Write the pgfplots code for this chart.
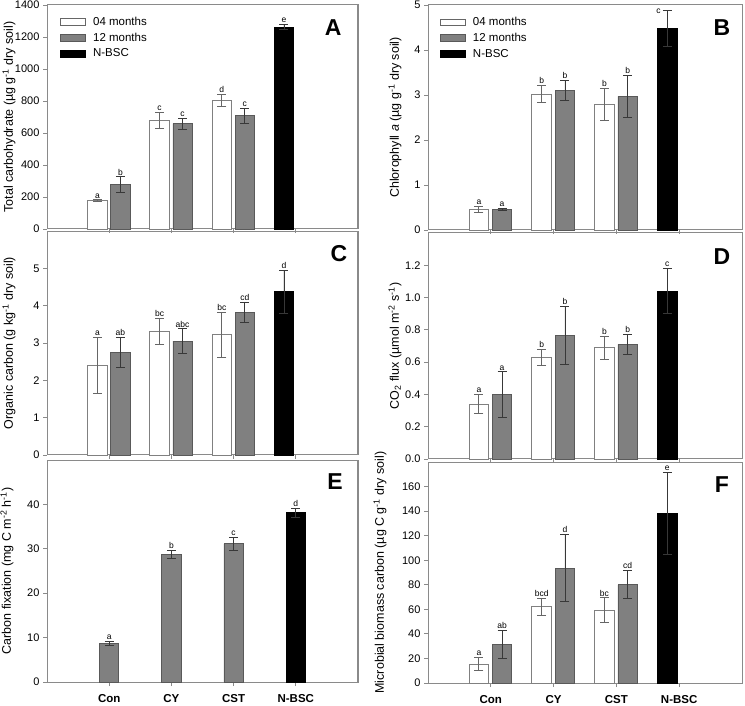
\documentclass[border=0pt]{standalone}
\usepackage{fontspec}
\setmainfont{Liberation Sans}
\usepackage{pgfplots}
\usepackage{pgfplotstable}
\pgfplotsset{compat=1.18}
\definecolor{barg}{HTML}{808080}
\definecolor{frame}{HTML}{8A8A8A}

\pgfplotsset{
  errs/.style={error bars/y dir=both, error bars/y explicit,
    error bars/error bar style={line width=0.8pt, draw=#1},
    error bars/error mark options={rotate=90, mark size=4.5pt, line width=0.8pt, draw=#1}},
  w04/.style={ybar, bar width=0.31, bar shift=0pt, fill=white, draw=black!50, line width=0.9pt,
    legend image code/.code={\draw[fill=white, draw=black!60, line width=0.8pt] (0pt,-3.3pt) rectangle (25pt,3.3pt); \path (30pt,0pt);},
    errs=black!60},
  g12/.style={ybar, bar width=0.31, bar shift=0pt, fill=barg, draw=black!65, line width=0.9pt,
    legend image code/.code={\draw[fill=barg, draw=black!65, line width=0.8pt] (0pt,-3.3pt) rectangle (25pt,3.3pt); \path (30pt,0pt);},
    errs=black!78},
  nb/.style={ybar, bar width=0.31, bar shift=0pt, fill=black, draw=black, line width=0.9pt,
    legend image code/.code={\draw[fill=black, draw=black, line width=0.8pt] (0pt,-3.3pt) rectangle (25pt,3.3pt); \path (30pt,0pt);},
    errs=black!78},
  labs/.style={draw=none, mark=none, forget plot, nodes near coords, point meta=explicit symbolic,
    nodes near coords style={font=\fontsize{8.5}{9}\selectfont, anchor=south, inner sep=1.5pt}},
  panel/.style={
    scale only axis, anchor=south west, xmin=0, xmax=5, ymin=0,
    xtick={1,2,3,4}, xticklabels={,,,},
    tick align=outside, xtick pos=bottom, ytick pos=left,
    major tick length=4pt,
    axis line style={draw=frame, line width=1pt},
    tick style={draw=frame, line width=0.8pt},
    ticklabel style={font=\fontsize{11}{12}\selectfont},
    /pgf/number format/assume math mode=true,
    /pgf/number format/1000 sep={},
    scaled y ticks=false,
    label style={font=\fontsize{12.5}{14}\selectfont},
    clip=false,
    legend style={draw=none, fill=none, anchor=north west, inner sep=0pt,
      font=\fontsize{11.5}{12}\selectfont, row sep=2pt},
    legend cell align=left,
  },
  left/.style={at={#1}, width=311pt},
  right/.style={at={#1}, width=314pt},
  yl/.style={ylabel style={at={(axis description cs:0,0.5)}, anchor=center, yshift=#1}},
}

\newcommand{\bars}[3]{%
  \addplot[w04] table[x=x,y=y,y error=e]{#1};
  \addplot[g12] table[x=x,y=y,y error=e]{#2};
  \addplot[nb] table[x=x,y=y,y error=e]{#3};
  \addplot[labs] table[x=x,y expr=\thisrow{y}+\thisrow{e},meta=lab]{#1};
  \addplot[labs] table[x=x,y expr=\thisrow{y}+\thisrow{e},meta=lab]{#2};
}
\newcommand{\letter}[3]{\node[font=\bfseries\fontsize{23}{23}\selectfont] at (rel axis cs:#1,#2) {#3};}

% ---------- data ----------
\pgfplotstableread{
x y e lab
0.81 178 4 a
1.81 678 52 c
2.81 803 38 d
}\Afour
\pgfplotstableread{
x y e lab
1.18 278 48 b
2.18 658 33 c
3.18 707 47 c
}\Atwelve
\pgfplotstableread{
x y e lab
3.81 1262 15 e
}\Anb

\pgfplotstableread{
x y e lab
0.81 0.46 0.07 a
1.81 3.02 0.19 b
2.81 2.79 0.36 b
}\Bfour
\pgfplotstableread{
x y e lab
1.18 0.46 0.015 a
2.18 3.11 0.22 b
3.18 2.97 0.47 b
}\Btwelve
\pgfplotstableread{
x y e lab
3.81 4.47 0.40 c
}\Bnb

\pgfplotstableread{
x y e lab
0.81 2.40 0.74 a
1.81 3.30 0.35 bc
2.81 3.22 0.61 bc
}\Cfour
\pgfplotstableread{
x y e lab
1.18 2.75 0.40 ab
2.18 3.05 0.33 abc
3.18 3.82 0.28 cd
}\Ctwelve
\pgfplotstableread{
x y e lab
3.81 4.37 0.58 d
}\Cnb

\pgfplotstableread{
x y e lab
0.81 0.34 0.06 a
1.81 0.63 0.05 b
2.81 0.69 0.07 b
}\Dfour
\pgfplotstableread{
x y e lab
1.18 0.40 0.14 a
2.18 0.765 0.18 b
3.18 0.71 0.06 b
}\Dtwelve
\pgfplotstableread{
x y e lab
3.81 1.04 0.14 c
}\Dnb

\pgfplotstableread{
x y e lab
1 8.75 0.45 a
2 28.8 0.9 b
3 31.1 1.5 c
}\Etwelve
\pgfplotstableread{
x y e lab
4 38.1 1.0 d
}\Enb

\pgfplotstableread{
x y e lab
0.81 15.5 5.3 a
1.81 62.0 7.3 bcd
2.81 59.2 10.2 bc
}\Ffour
\pgfplotstableread{
x y e lab
1.18 31.6 11.5 ab
2.18 93.5 27.3 d
3.18 80.0 11.5 cd
}\Ftwelve
\pgfplotstableread{
x y e lab
3.81 138.4 33.3 e
}\Fnb

\begin{document}
\begin{tikzpicture}
\useasboundingbox (0pt,0pt) rectangle (745pt,705pt);

% A
\begin{axis}[panel, left={(47pt,476pt)}, height=224pt, ymax=1400, ytick={0,200,...,1400},
  yl=38pt, ylabel={Total carbohydrate (µg g\textsuperscript{-1} dry soil)},
  legend style={at={(0.042,0.955)}}]
\bars{\Afour}{\Atwelve}{\Anb}
\addplot[labs] table[x=x,y expr=\thisrow{y}+\thisrow{e},meta=lab]{\Anb};
\legend{04 months,12 months,N-BSC}
\letter{0.92}{0.90}{A}
\end{axis}

% B
\begin{axis}[panel, right={(428pt,475pt)}, height=225pt, ymax=5, ytick={0,1,...,5},
  yl=33pt, ylabel={Chlorophyll \textit{a} (µg g\textsuperscript{-1} dry soil)},
  legend style={at={(0.038,0.955)}}]
\bars{\Bfour}{\Btwelve}{\Bnb}
\addplot[labs, nodes near coords style={anchor=east, xshift=-5pt}] table[x=x,y expr=\thisrow{y}+\thisrow{e},meta=lab]{\Bnb};
\legend{04 months,12 months,N-BSC}
\letter{0.936}{0.90}{B}
\end{axis}

% C
\begin{axis}[panel, left={(47pt,250pt)}, height=224pt, ymax=6, ytick={0,1,...,5},
  yl=38pt, ylabel={Organic carbon (g kg\textsuperscript{-1} dry soil)}]
\bars{\Cfour}{\Ctwelve}{\Cnb}
\addplot[labs] table[x=x,y expr=\thisrow{y}+\thisrow{e},meta=lab]{\Cnb};
\letter{0.939}{0.90}{C}
\end{axis}

% D
\begin{axis}[panel, right={(428pt,246pt)}, height=226pt, ymax=1.4, ytick={0,0.2,...,1.2},
  yticklabel style={/pgf/number format/.cd, fixed, fixed zerofill, precision=1},
  yl=33pt, ylabel={CO\textsubscript{2} flux (µmol m\textsuperscript{-2} s\textsuperscript{-1})}]
\bars{\Dfour}{\Dtwelve}{\Dnb}
\addplot[labs] table[x=x,y expr=\thisrow{y}+\thisrow{e},meta=lab]{\Dnb};
\letter{0.936}{0.894}{D}
\end{axis}

% E
\begin{axis}[panel, left={(47pt,23pt)}, height=222pt, ymax=50, ytick={0,10,...,40},
  xticklabels={Con,CY,CST,N-BSC},
  xticklabel style={font=\bfseries\fontsize{11.5}{13}\selectfont, yshift=-5pt},
  yl=40pt, ylabel={Carbon fixation (mg C m\textsuperscript{-2} h\textsuperscript{-1})}]
\addplot[g12] table[x=x,y=y,y error=e]{\Etwelve};
\addplot[nb] table[x=x,y=y,y error=e]{\Enb};
\addplot[labs] table[x=x,y expr=\thisrow{y}+\thisrow{e},meta=lab]{\Etwelve};
\addplot[labs] table[x=x,y expr=\thisrow{y}+\thisrow{e},meta=lab]{\Enb};
\letter{0.926}{0.905}{E}
\end{axis}

% F
\begin{axis}[panel, right={(428pt,22pt)}, height=221pt, ymax=180, ytick={0,20,...,160},
  xticklabels={Con,CY,CST,N-BSC},
  xticklabel style={font=\bfseries\fontsize{11.5}{13}\selectfont, yshift=-5pt},
  yl=48pt, ylabel={Microbial biomass carbon (µg C g\textsuperscript{-1} dry soil)}]
\bars{\Ffour}{\Ftwelve}{\Fnb}
\addplot[labs] table[x=x,y expr=\thisrow{y}+\thisrow{e},meta=lab]{\Fnb};
\letter{0.936}{0.896}{F}
\end{axis}
\end{tikzpicture}
\end{document}
